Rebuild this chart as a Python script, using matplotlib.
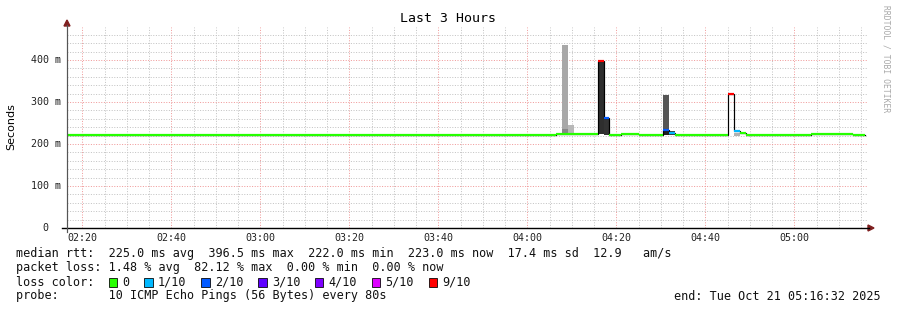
import matplotlib
matplotlib.use("Agg")
import matplotlib.pyplot as plt
from matplotlib.patches import Rectangle, Polygon
from matplotlib.transforms import blended_transform_factory

# ---------------- data ----------------
title = "Last 3 Hours"
y_label = "Seconds"
start_minute = 136 + 32 / 60          # 02:16:32 (minutes since midnight)
span_minutes = 180
x_tick_values = [140, 160, 180, 200, 220, 240, 260, 280, 300]
x_tick_labels = ["02:20", "02:40", "03:00", "03:20", "03:40", "04:00", "04:20", "04:40", "05:00"]
y_tick_values = [0, 100, 200, 300, 400]
y_tick_labels = ["0  ", "100 m", "200 m", "300 m", "400 m"]
y_max = 478.6

loss_labels = ["0", "1/10", "2/10", "3/10", "4/10", "5/10", "9/10"]
loss_colors = ["#26ff00", "#00b8ff", "#0059ff", "#5e00ff", "#7e00ff", "#dd00ff", "#ff0000"]

# median rtt (ms) step segments, times in minutes since midnight
med_start = [136.53, 246.44, 255.77, 257.10, 258.44, 261.10, 265.10, 270.44, 271.77,
             273.10, 285.10, 286.44, 287.77, 289.10, 303.77, 313.10]
med_end = [246.44, 255.77, 257.10, 258.44, 261.10, 265.10, 270.44, 271.77, 273.10,
           285.10, 286.44, 287.77, 289.10, 303.77, 313.10, 315.77]
med_value = [222.6, 225.0, 396.5, 263.0, 222.6, 225.0, 222.6, 233.0, 227.0,
             222.6, 320.0, 231.0, 226.0, 222.6, 225.0, 222.6]
med_loss = [0, 0, 6, 2, 0, 0, 0, 2, 1, 0, 6, 1, 0, 0, 0, 0]

# smoke (ping spread) segments
smoke_start = [247.77, 247.77, 249.10, 255.77, 257.10, 270.44, 270.44, 271.77, 286.44]
smoke_low = [224, 224, 224, 223, 222, 223, 222, 222, 220]
smoke_high = [436, 235, 245, 398, 263, 317, 232, 230, 227]
smoke_color = ["#a8a8a8", "#888888", "#b8b8b8", "#2e2e2e", "#333333", "#555555",
               "#1e1e1e", "#404040", "#b0b0b0"]
step_minutes = 80 / 60

legend_rows = [
    "median rtt:  225.0 ms avg  396.5 ms max  222.0 ms min  223.0 ms now  17.4 ms sd  12.9   am/s",
    "packet loss: 1.48 % avg  82.12 % max  0.00 % min  0.00 % now",
    "loss color:",
    "probe:       10 ICMP Echo Pings (56 Bytes) every 80s",
]
end_text = "end: Tue Oct 21 05:16:32 2025"
watermark = "RRDTOOL / TOBI OETIKER"

# ---------------- figure ----------------
W, H = 897, 310
fig = plt.figure(figsize=(W / 100, H / 100), dpi=100)
fig.patch.set_facecolor("white")
L, R, B, T = 67, 868, 228, 27
ax = fig.add_axes([L / W, 1 - B / H, (R - L) / W, (B - T) / H])
ax.set_xlim(start_minute, start_minute + span_minutes)
ax.set_ylim(0, y_max)
for s in ax.spines.values():
    s.set_visible(False)
ax.set_xticks([])
ax.set_yticks([])
ax.patch.set_facecolor("white")

mono = "DejaVu Sans Mono"
px = 72 / 100  # points per pixel

# grid
t = 140 - 5
while t < start_minute + span_minutes:
    if t > start_minute:
        major = (t % 20 == 0)
        ax.axvline(t, color="#f09a9a" if major else "#c4c4c4", lw=px,
                   linestyle=(0, (1, 1.6)), zorder=1)
    t += 5
for v in range(20, 480, 20):
    major = (v % 100 == 0)
    ax.axhline(v, color="#f09a9a" if major else "#c4c4c4", lw=px,
               linestyle=(0, (1, 1.6)), zorder=1)

# smoke
ax.bar(smoke_start, [h - l for h, l in zip(smoke_high, smoke_low)], bottom=smoke_low,
       width=step_minutes, align="edge", color=smoke_color, linewidth=0, zorder=2)

# black median outline (step)
xs, ys = [], []
for s, e, v in zip(med_start, med_end, med_value):
    xs += [s, e]
    ys += [v, v]
ax.plot(xs, ys, color="black", lw=1.2 * px, zorder=3, solid_joinstyle="miter")

# coloured median segments
for s, e, v, li in zip(med_start, med_end, med_value, med_loss):
    ax.hlines(v, s, e, color=loss_colors[li], lw=2.2 * px, zorder=4, capstyle="butt")

# axes lines
fig.add_artist(plt.Line2D([62 / W, 869 / W], [1 - B / H, 1 - B / H], color="black", lw=1.4 * px))
fig.add_artist(plt.Line2D([L / W, L / W], [1 - (B + 4) / H, 1 - 25 / H], color="#555555", lw=1.2 * px))
# arrows
fig.add_artist(Polygon([[(L - 3) / W, 1 - 26 / H], [(L + 3) / W, 1 - 26 / H], [L / W, 1 - 20 / H]],
                       closed=True, color="#802020", transform=fig.transFigure))
fig.add_artist(Polygon([[868 / W, 1 - (B - 3) / H], [868 / W, 1 - (B + 3) / H], [874 / W, 1 - B / H]],
                       closed=True, color="#802020", transform=fig.transFigure))

# tick labels
bt = blended_transform_factory(ax.transData, fig.transFigure)
for v, lab in zip(x_tick_values, x_tick_labels):
    ax.text(v, 1 - 238 / H, lab, transform=bt, ha="center", va="center",
            family=mono, fontsize=7.2, color="#222222")
bt2 = blended_transform_factory(fig.transFigure, ax.transData)
for v, lab in zip(y_tick_values, y_tick_labels):
    fig.text(61 / W, 0, lab, transform=bt2, ha="right", va="center",
             family=mono, fontsize=7.2, color="#222222").set_y(v)

# title, ylabel, watermark
fig.text(448 / W, 1 - 19 / H, title, ha="center", va="center", family=mono, fontsize=9.5)
fig.text(11 / W, 1 - 127 / H, y_label, ha="center", va="center", rotation=90,
         family="DejaVu Sans", fontsize=8)
fig.text(886 / W, 1 - 5 / H, watermark, ha="center", va="top", rotation=-90,
         family=mono, fontsize=5.8, color="#a8a8a8")

# legend
fs = 8.5
row_y = [254, 268, 282, 296]
for txt, y in zip(legend_rows, row_y):
    fig.text(16 / W, 1 - y / H, txt, ha="left", va="center", family=mono, fontsize=fs, color="#111111")
fig.text(881 / W, 1 - row_y[3] / H, end_text, ha="right", va="center", family=mono, fontsize=fs, color="#111111")

cw = fs * 100 / 72 * 0.602  # char width in px
col = 13
for lab, c in zip(loss_labels, loss_colors):
    x0 = 16 + col * cw
    fig.add_artist(Rectangle(((x0 + 0.5) / W, 1 - (row_y[2] + 4.5) / H), 8.5 / W, 9 / H,
                             facecolor=c, edgecolor="black", lw=0.8 * px, transform=fig.transFigure))
    fig.text((16 + (col + 2) * cw) / W, 1 - row_y[2] / H, lab, ha="left", va="center",
             family=mono, fontsize=fs, color="#111111")
    col += 2 + len(lab) + 2

fig.savefig("out.png", dpi=100, facecolor="white")
